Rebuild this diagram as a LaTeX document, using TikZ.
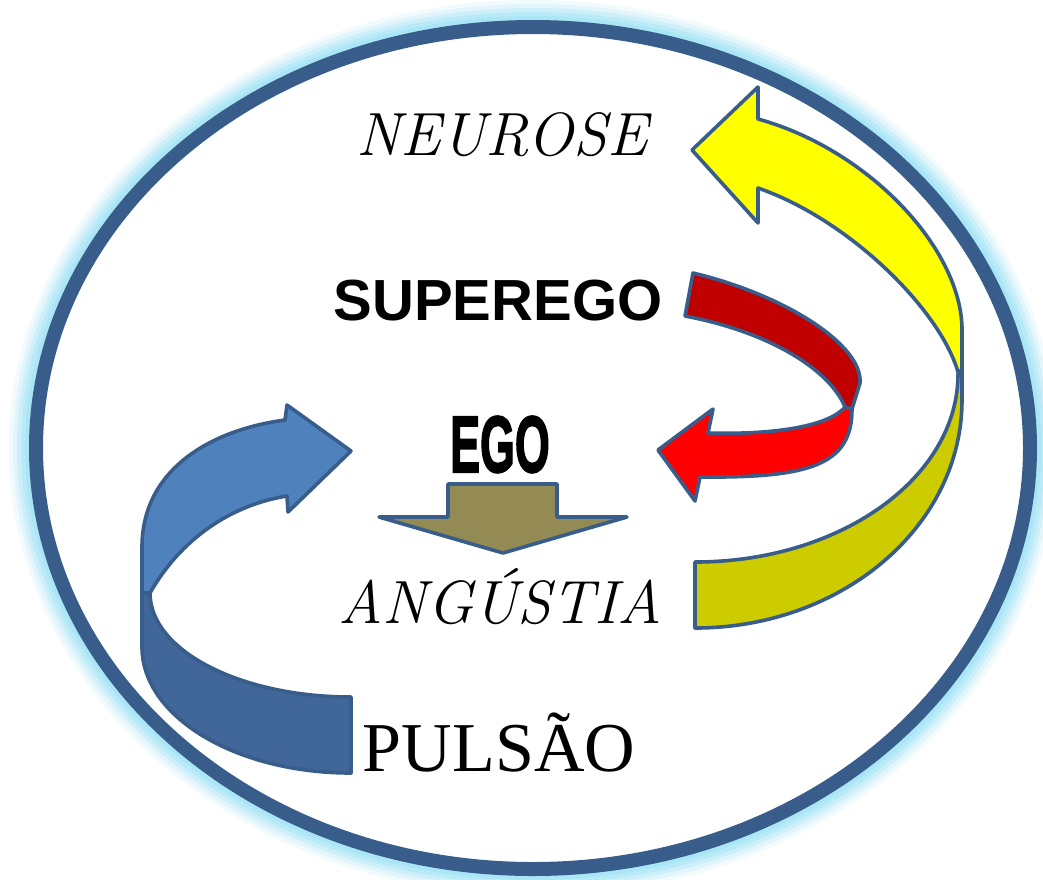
\documentclass[tikz,border=0pt]{standalone}
\usepackage{graphicx}
\usepackage{fontspec}
\newfontfamily\arialfont{Liberation Sans}
\newfontfamily\egofont{Liberation Sans}[BoldFeatures={FakeBold=2.5}]
\newfontfamily\timesfont{Liberation Serif}
\usetikzlibrary{calc}
\definecolor{rim}{HTML}{385D8A}
\definecolor{glow}{HTML}{A2E4F6}
\definecolor{blueup}{HTML}{4F81BD}
\definecolor{bluelow}{HTML}{41669A}
\definecolor{yellowup}{HTML}{FFFF00}
\definecolor{yellowlow}{HTML}{CCCC00}
\definecolor{redup}{HTML}{C00000}
\definecolor{redlow}{HTML}{FF0000}
\definecolor{egobrown}{HTML}{948A54}

\begin{document}
\begin{tikzpicture}[x=1pt, y=-1pt,
    arrowline/.style={draw=rim, line width=3.6pt, line join=round},
    script/.style={anchor=base, font=\fontsize{61}{61}\selectfont\itshape}]
    \useasboundingbox[fill=white](0,0)rectangle(1043,879);
    % frame
    \foreach \w/\o in {54/0.15, 46/0.2, 38/0.3, 30/0.45, 22/0.6}
        \path[draw=glow, line width=\w pt, opacity=\o](533,448)ellipse[x radius=497, y radius=421];
    \path[fill=white, draw=rim, line width=14pt](533,448)ellipse[x radius=497, y radius=421];
    % texts
    \node[script](neurose)at(502,155){NEUROSE};
    \node[anchor=base, font=\arialfont\bfseries\fontsize{58}{58}\selectfont](superego)at(498,320){SUPEREGO};
    \node[anchor=base](ego)at(500,472){\scalebox{0.56}[1]{\egofont\bfseries\fontsize{80}{80}\selectfont EGO}};
    \node[script](angustia)at(500,623){ANGÚSTIA};
    \node[anchor=base, font=\timesfont\fontsize{70}{70}\selectfont](pulsao)at(499,771){PULSÃO};
    % yellow
    \path[arrowline, fill=yellowlow](962,370)--(962,400)arc[start angle=0, end angle=90, x radius=267, y radius=228]
        --(695,562)arc[start angle=90, end angle=0, x radius=263, y radius=188]--cycle;
    \path[arrowline, fill=yellowup](758,119).. controls (870,150) and (962,250) ..(962,330)--(962,370)--(958,372)
        .. controls (940,310) and (850,220) ..(758,188)--(758,223)--(692,150)--(758,87)--cycle;
    % red
    \path[arrowline, fill=redup](693,273).. controls (785,295) and (863,345) ..(860,383)--(852,409)--(845,407)
        .. controls (830,370) and (770,332) ..(685,316)--cycle;
    \path[arrowline, fill=redlow](845,407)--(852,409).. controls (852,465) and (810,478) ..(700,477)--(695,501)
        --(658,450)--(713,409)--(708,433).. controls (780,435) and (830,425) ..(845,407)--cycle;
    % blue
    \path[arrowline, fill=bluelow](142,593)--(142,647)arc[start angle=180, end angle=90, x radius=209, y radius=126]
        --(351,697)arc[start angle=90, end angle=180, x radius=201, y radius=104]--cycle;
    \path[arrowline, fill=blueup](142,593)--(142,547).. controls (142,470) and (210,430) ..(285,420)--(287,405)
        --(351,451)--(288,512)--(287,496).. controls (230,505) and (180,540) ..(150,593)--cycle;
    % ego arrow
    \path[arrowline, fill=egobrown](448,484)--(557,484)--(557,517)--(627,517)--(503,553)--(379,517)--(448,517)--cycle;
\end{tikzpicture}
\end{document}
